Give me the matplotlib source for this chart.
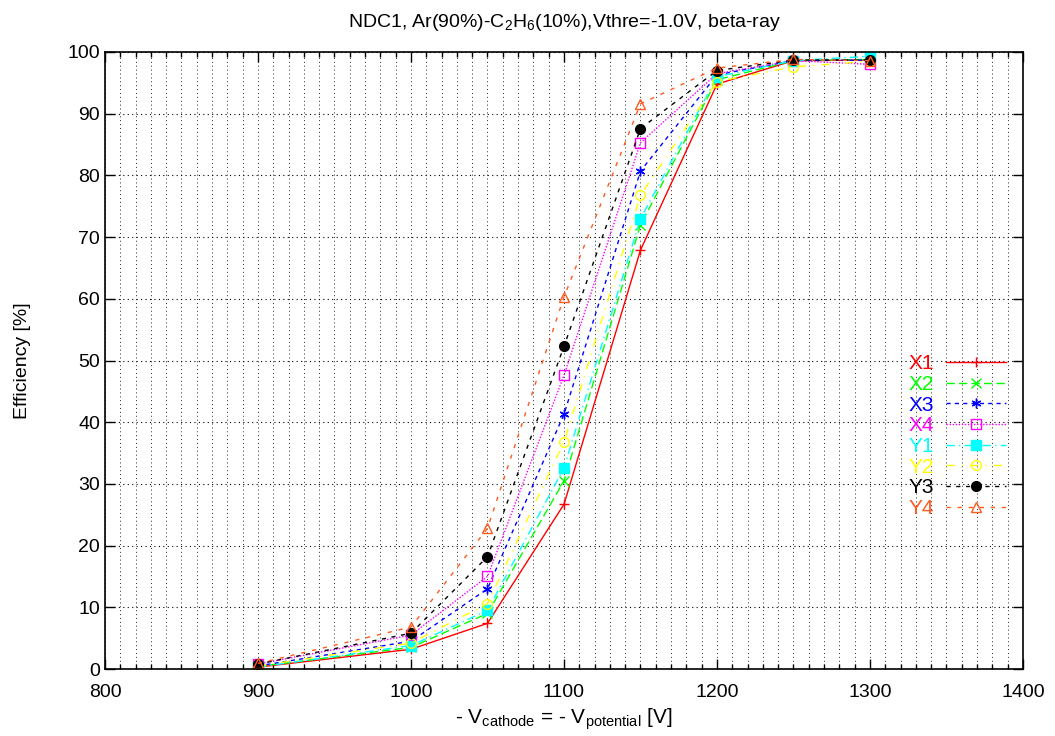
import matplotlib
matplotlib.use('Agg')
import matplotlib.pyplot as plt
from matplotlib.ticker import MultipleLocator

plt.rcParams['font.family'] = ['Liberation Sans', 'DejaVu Sans']
plt.rcParams['mathtext.default'] = 'regular'
plt.rcParams['font.size'] = 14

# high voltage points
voltage = [900, 1000, 1050, 1100, 1150, 1200, 1250, 1300]

# efficiency per channel [%]
eff_x1 = [0.3, 3.2, 7.4, 26.7, 67.9, 94.8, 98.6, 98.7]
eff_x2 = [0.4, 3.5, 9.0, 30.5, 72.0, 95.5, 98.6, 98.8]
eff_x3 = [0.5, 4.5, 13.0, 41.3, 80.7, 96.3, 98.6, 98.7]
eff_x4 = [0.8, 5.5, 15.0, 47.6, 85.3, 96.5, 98.6, 98.0]
eff_y1 = [0.3, 3.8, 9.5, 32.6, 73.0, 96.0, 98.6, 99.3]
eff_y2 = [0.5, 4.2, 10.6, 36.8, 76.8, 95.2, 97.6, 98.5]
eff_y3 = [0.8, 5.8, 18.2, 52.3, 87.6, 97.0, 98.7, 98.7]
eff_y4 = [0.9, 6.8, 22.8, 60.3, 91.6, 97.4, 98.8, 98.6]

labels = ['X1', 'X2', 'X3', 'X4', 'Y1', 'Y2', 'Y3', 'Y4']

# style per channel (gnuplot-ish)
styles = [
    dict(color='#ff0000', ls='-', marker='+', mfc='none'),
    dict(color='#00ff00', ls=(0, (6, 3)), marker='x', mfc='none'),
    dict(color='#0000ff', ls=(0, (3, 3)), marker=(6, 2, 0), mfc='none'),
    dict(color='#ff00ff', ls=(0, (1, 1.2)), marker='s', mfc='none'),
    dict(color='#00ffff', ls=(0, (6, 3, 1, 3)), marker='s', mfc='#00ffff'),
    dict(color='#ffff00', ls=(0, (6, 5, 1, 5)), marker='o', mfc='none'),
    dict(color='#000000', ls=(0, (3, 4)), marker='o', mfc='#000000'),
    dict(color='#ff5a1e', ls=(0, (3, 5)), marker='^', mfc='none'),
]

fig = plt.figure(figsize=(10.55, 7.36), dpi=100)
ax = fig.add_axes([105/1055, 1-669/736, 918/1055, 617/736])

series = [eff_x1, eff_x2, eff_x3, eff_x4, eff_y1, eff_y2, eff_y3, eff_y4]
for lab, vals, st in zip(labels, series, styles):
    ax.plot(voltage, vals, label=lab, color=st['color'], linestyle=st['ls'],
            linewidth=1.0, marker=st['marker'], markersize=7,
            markerfacecolor=st['mfc'], markeredgecolor=st['color'],
            markeredgewidth=1.0)

ax.set_xlim(800, 1400)
ax.set_ylim(0, 100)
ax.xaxis.set_major_locator(MultipleLocator(100))
ax.xaxis.set_minor_locator(MultipleLocator(10))
ax.yaxis.set_major_locator(MultipleLocator(10))

ax.tick_params(which='both', direction='in', top=True, right=True, labelsize=14)
ax.tick_params(which='major', length=7, width=1)
ax.tick_params(which='minor', length=3.5, width=1)
ax.tick_params(axis='x', pad=11)

ax.grid(which='major', axis='y', color='black', linestyle=(0, (1, 3)), linewidth=0.8)
ax.grid(which='both', axis='x', color='0.15', linestyle=(0, (1, 3)), linewidth=0.7)
ax.set_axisbelow(True)
for sp in ax.spines.values():
    sp.set_linewidth(1.2)

ax.set_title('NDC1, Ar(90%)-C$_2$H$_6$(10%),Vthre=-1.0V, beta-ray', fontsize=14, pad=18)
ax.set_xlabel('- V$_{cathode}$ = - V$_{potential}$ [V]', fontsize=15, labelpad=4)
ax.set_ylabel('Efficiency [%]', fontsize=14, labelpad=26)

leg = ax.legend(loc='upper right', bbox_to_anchor=(0.982, 0.510), frameon=False,
                markerfirst=False, labelcolor='linecolor', fontsize=15,
                handlelength=2.9, handletextpad=0.6, labelspacing=0.08,
                borderpad=0, borderaxespad=0)

fig.savefig('out.png', dpi=100)
